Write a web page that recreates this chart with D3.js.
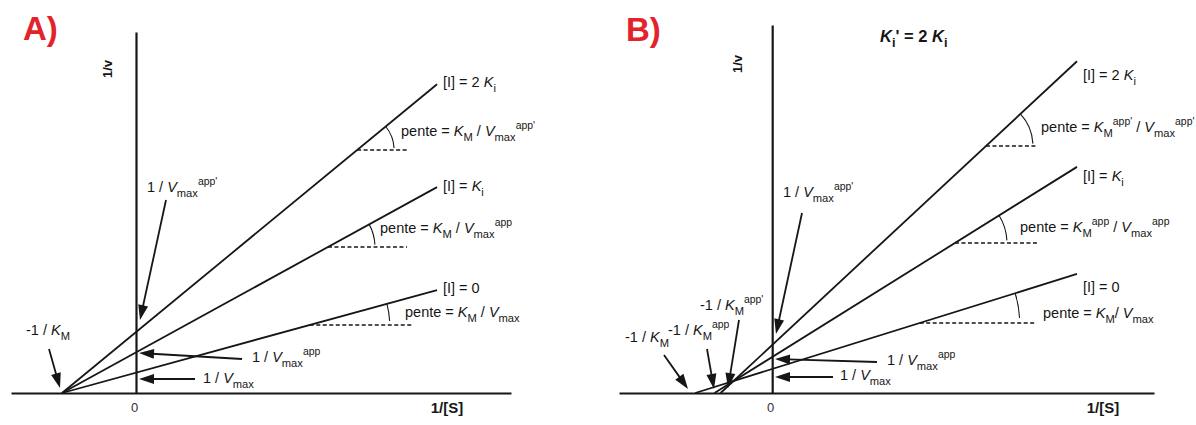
<!DOCTYPE html>
<html>
<head>
<meta charset="utf-8">
<script src="https://cdn.jsdelivr.net/npm/d3@7"></script>
<style>
  body { margin: 0; background: #fff; }
  text { font-family: "Liberation Sans", Arial, Helvetica, sans-serif; white-space: pre; }
</style>
</head>
<body>
<svg id="chart" width="1196" height="425"></svg>
<script>
// ---------------- DATA ----------------
const panelTitles = ["A)", "B)"];
const seriesNames = ["[I] = 0", "[I] = *K*_{i}", "[I] = 2 *K*_{i}"];
// Panel A (non-competitive): x-intercepts (-1/KM units) and y-intercepts (1/Vmax units)
const aXIntercepts = [-1, -1, -1];
const aYIntercepts = [1, 2, 3];
// Panel B (mixed, Ki' = 2 Ki)
const bXIntercepts = [-1, -0.75, -0.67];
const bYIntercepts = [1, 1.5, 2];
const xLineEnd = [4.07, 3.96];
const xTickValues = [0];
const xTickLabels = ["0"];
const axisTitles = ["1/[S]", "1/v"];
const panelBNote = "*K*_{i}' = 2 *K*_{i}";
const penteA = ["pente = *K*_{M} / *V*_{max}", "pente = *K*_{M} / *V*_{max}^{app}", "pente = *K*_{M} / *V*_{max}^{app'}"];
const penteB = ["pente = *K*_{M}/ *V*_{max}", "pente = *K*_{M}^{app} / *V*_{max}^{app}", "pente = *K*_{M}^{app'} / *V*_{max}^{app'}"];
const arrowTextsA = ["-1 / *K*_{M}", "1 / *V*_{max}^{app'}", "1 / *V*_{max}^{app}", "1 / *V*_{max}"];
const arrowTextsB = ["-1 / *K*_{M}", "-1 / *K*_{M}^{app}", "-1 / *K*_{M}^{app'}", "1 / *V*_{max}^{app'}", "1 / *V*_{max}^{app}", "1 / *V*_{max}"];

// ---------------- LAYOUT ----------------
const panels = [
  {
    title: panelTitles[0], titlePos: [23, 40],
    xDomain: [-1.69, 5.07], xRange: [11, 511],
    yDomain: [0, 17.78], yRange: [393, 32],
    xInt: aXIntercepts, yInt: aYIntercepts, xEnd: xLineEnd[0],
    xTitle: [447, 413], yTitle: [107, 69],
    seriesLabelX: 443, seriesLabelY: [293, 191, 87],
    pente: penteA, penteX: [405, 380, 401], penteY: [317, 233, 136],
    dashY: [325, 247, 150], dashEnd: [412, 407, 407], arcR: [80, 47, 37],
    arrows: [
      { t: arrowTextsA[0], tp: [26, 335], from: [49, 349], to: [60, 388] },
      { t: arrowTextsA[1], tp: [147, 192], from: [166, 200], to: [140, 320] },
      { t: arrowTextsA[2], tp: [252, 362], from: [242, 359], to: [139, 353] },
      { t: arrowTextsA[3], tp: [203, 383], from: [195, 379], to: [139, 379] }
    ]
  },
  {
    title: panelTitles[1], titlePos: [626, 41],
    xDomain: [-1.99, 4.96], xRange: [619, 1154],
    yDomain: [0, 15.33], yRange: [393, 25],
    xInt: bXIntercepts, yInt: bYIntercepts, xEnd: xLineEnd[1],
    xTitle: [1103, 413], yTitle: [737, 64],
    note: panelBNote, notePos: [880, 42],
    seriesLabelX: 1083, seriesLabelY: [292, 181, 80],
    pente: penteB, penteX: [1043, 1020, 1041], penteY: [318, 232, 132],
    dashY: [323, 243, 146], dashEnd: [1036, 1039, 1038], arcR: [100, 52, 47],
    arrows: [
      { t: arrowTextsB[0], tp: [625, 342], from: [664, 355], to: [688, 389] },
      { t: arrowTextsB[1], tp: [668, 335], from: [707, 349], to: [714, 389] },
      { t: arrowTextsB[2], tp: [700, 310], from: [739, 320], to: [728, 388] },
      { t: arrowTextsB[3], tp: [783, 197], from: [802, 213], to: [776, 334] },
      { t: arrowTextsB[4], tp: [887, 365], from: [877, 362], to: [775, 359] },
      { t: arrowTextsB[5], tp: [840, 380], from: [833, 377], to: [775, 377] }
    ]
  }
];

const FS = 14.5;
const INK = "#161616";
const svg = d3.select("#chart");

// rich text: *X* italic, _{..} subscript, ^{..} superscript
function rich(g, x, y, markup, fs, bold) {
  const t = g.append("text").attr("x", x).attr("y", y)
    .attr("font-size", fs).attr("fill", INK)
    .attr("font-weight", bold ? "bold" : "normal");
  const tokens = markup.split(/(\*[^*]+\*|_\{[^}]*\}|\^\{[^}]*\})/).filter(s => s.length);
  let shift = 0;
  tokens.forEach(tok => {
    let txt = tok, target = 0, size = fs, italic = false;
    if (tok.startsWith("*")) { txt = tok.slice(1, -1); italic = true; }
    else if (tok.startsWith("_{")) { txt = tok.slice(2, -1); target = fs * 0.32; size = fs * 0.77; }
    else if (tok.startsWith("^{")) { txt = tok.slice(2, -1); target = -fs * 0.45; size = fs * 0.72; }
    const ts = t.append("tspan").text(txt).attr("font-size", size).attr("dy", target - shift);
    if (italic) ts.attr("font-style", "italic");
    shift = target;
  });
  return t;
}

function arrow(g, from, to) {
  const dx = to[0] - from[0], dy = to[1] - from[1];
  const L = Math.hypot(dx, dy), ux = dx / L, uy = dy / L;
  const hl = 15, hw = 5;
  const bx = to[0] - ux * hl, by = to[1] - uy * hl;
  g.append("line").attr("x1", from[0]).attr("y1", from[1]).attr("x2", bx + ux * 2).attr("y2", by + uy * 2)
    .attr("stroke", INK).attr("stroke-width", 1.8);
  g.append("path")
    .attr("d", `M${to[0]},${to[1]} L${bx - uy * hw},${by + ux * hw} L${bx + uy * hw},${by - ux * hw} Z`)
    .attr("fill", INK);
}

panels.forEach(p => {
  const g = svg.append("g");
  const x = d3.scaleLinear().domain(p.xDomain).range(p.xRange);
  const y = d3.scaleLinear().domain(p.yDomain).range(p.yRange);

  // axes
  const xAxis = g.append("g").attr("transform", `translate(0,${y(0)})`)
    .call(d3.axisBottom(x).tickValues(xTickValues).tickSize(0).tickSizeOuter(0).tickPadding(10)
      .tickFormat((d, i) => xTickLabels[i]));
  xAxis.select(".domain").attr("stroke", INK).attr("stroke-width", 2.2);
  xAxis.selectAll(".tick text").attr("font-size", 13).attr("fill", "#333")
    .attr("font-family", "Liberation Sans, Arial, sans-serif").attr("dx", -2);

  const yAxis = g.append("g").attr("transform", `translate(${x(0)},0)`)
    .call(d3.axisLeft(y).tickValues([]).tickSizeOuter(0));
  yAxis.select(".domain").attr("stroke", INK).attr("stroke-width", 2.2);

  // axis titles
  g.append("text").attr("x", p.xTitle[0]).attr("y", p.xTitle[1]).attr("text-anchor", "middle")
    .attr("font-size", 15).attr("font-weight", "bold").attr("fill", INK).text(axisTitles[0]);
  g.append("text").attr("transform", `translate(${p.yTitle[0]},${p.yTitle[1]}) rotate(-90)`)
    .attr("text-anchor", "middle").attr("dy", "0.35em")
    .attr("font-size", 13).attr("font-weight", "bold").attr("fill", INK).text(axisTitles[1]);

  // panel title
  g.append("text").attr("x", p.titlePos[0]).attr("y", p.titlePos[1])
    .attr("font-size", 33).attr("font-weight", "bold").attr("fill", "#e3232b").text(p.title);
  if (p.note) rich(g, p.notePos[0], p.notePos[1], p.note, 16.5, true);

  // lines
  const line = d3.line().x(d => x(d[0])).y(d => y(d[1]));
  p.xInt.forEach((xi, i) => {
    const b = p.yInt[i];
    const slope = -b / xi;
    const pts = [[xi, 0], [p.xEnd, b + slope * p.xEnd]];
    g.append("path").attr("d", line(pts)).attr("fill", "none")
      .attr("stroke", INK).attr("stroke-width", 1.8);

    // series label
    rich(g, p.seriesLabelX, p.seriesLabelY[i], seriesNames[i], FS);

    // slope annotation: dashed horizontal + arc
    const yd = y.invert(p.dashY[i]);
    const xc = (yd - b) / slope;
    const cx = x(xc), cy = p.dashY[i];
    g.append("line").attr("x1", cx).attr("y1", cy).attr("x2", p.dashEnd[i]).attr("y2", cy)
      .attr("stroke", INK).attr("stroke-width", 1.5).attr("stroke-dasharray", "4,2.5");
    const px1 = x(pts[0][0]), py1 = y(pts[0][1]), px2 = x(pts[1][0]), py2 = y(pts[1][1]);
    const th = Math.atan2(-(py2 - py1), px2 - px1);
    const r = p.arcR[i];
    const a2 = 0.05;
    const s = [cx + r * Math.cos(th), cy - r * Math.sin(th)];
    const e = [cx + r * Math.cos(a2), cy - r * Math.sin(a2)];
    g.append("path").attr("d", `M${s[0]},${s[1]} A${r},${r} 0 0 1 ${e[0]},${e[1]}`)
      .attr("fill", "none").attr("stroke", INK).attr("stroke-width", 1.1);

    rich(g, p.penteX[i], p.penteY[i], p.pente[i], FS);
  });

  // arrows with labels
  p.arrows.forEach(a => {
    rich(g, a.tp[0], a.tp[1], a.t, FS);
    arrow(g, a.from, a.to);
  });
});
</script>
</body>
</html>
